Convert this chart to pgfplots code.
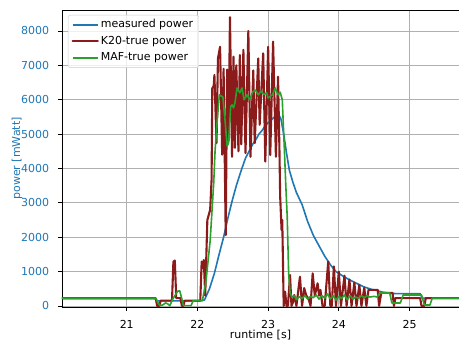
\documentclass[border=0pt]{standalone}
\usepackage{pgfplots}
\pgfplotsset{compat=1.18}
\usepackage{fontspec}
\setmainfont{DejaVu Sans}
\definecolor{mblue}{HTML}{1F77B4}
\definecolor{kdark}{HTML}{8B1A1A}
\definecolor{mgreen}{HTML}{2CA02C}
\definecolor{mgrid}{HTML}{B0B0B0}
\begin{document}
\fontsize{11}{13}\selectfont
\begin{tikzpicture}
\begin{axis}[
  scale only axis, width=397pt, height=297pt,
  at={(0,0)}, anchor=south west,
  xmin=20.084, xmax=25.70, ymin=-30, ymax=8610,
  axis x line*=box, axis y line*=left,
  axis line style={black, line width=0.9pt},
  xtick={21,22,23,24,25}, ytick={0,1000,...,8000},
  xtick pos=bottom, ytick pos=left,
  tick align=outside, major tick length=3.9pt,
  tick style={black, line width=0.9pt},
  grid=major, major grid style={mgrid, line width=0.9pt},
  /pgf/number format/assume math mode=true,
  /pgf/number format/1000 sep={},
  ticklabel style={font=\fontsize{11}{13}\selectfont},
  yticklabel style={mblue, inner sep=0pt, anchor=east, xshift=-8.7pt},
  xticklabel style={inner sep=0pt, anchor=north, yshift=-9pt},
  xlabel={runtime [s]}, ylabel={power [mWatt]},
  every axis x label/.style={at={(axis description cs:0.5,0)}, anchor=center, yshift=-28pt, font=\fontsize{11}{13}\selectfont},
  every axis y label/.style={at={(axis description cs:0,0.5)}, anchor=center, rotate=90, yshift=45pt, mblue, font=\fontsize{11}{13}\selectfont},
  legend cell align=left,
  legend style={at={(0,1)}, anchor=north west, xshift=6pt, yshift=-5pt,
    draw=black!20, fill=white, fill opacity=0.8, text opacity=1, rounded corners=2pt,
    inner xsep=3.5pt, inner ysep=1.5pt, row sep=0pt,
    font=\fontsize{11}{13}\selectfont,
    nodes={text height=8pt, text depth=2.5pt, inner ysep=3pt}},
  legend image code/.code={\draw[#1] (0pt,0pt) -- (25pt,0pt);},
]
% measured power
\addplot[draw=mblue, line width=1.6pt, line join=round] coordinates {
(20.08,224) (21.40,224) (21.43,150) (22.05,150) (22.10,175) (22.17,500) (22.24,950)
(22.30,1450) (22.37,2000) (22.43,2550) (22.49,3050) (22.55,3500) (22.62,3950)
(22.68,4300) (22.73,4500) (22.78,4700) (22.83,4850) (22.87,5000) (22.92,5120) (22.96,5250) (23.00,5330)
(23.05,5420) (23.10,5520) (23.14,5600) (23.18,5450) (23.22,5000) (23.26,4450) (23.30,3950) (23.35,3600)
(23.40,3300) (23.48,2950) (23.56,2450) (23.64,2050) (23.72,1750) (23.80,1450)
(23.88,1200) (23.96,1000) (24.05,880) (24.15,760) (24.25,660) (24.35,560)
(24.45,490) (24.55,440) (24.62,400) (24.70,380) (24.80,360) (25.00,360) (25.15,360)
(25.18,224) (25.70,224)
};
\addlegendentry{measured power}
% K20-true power
\addplot[draw=kdark, line width=2.1pt, line join=round, line cap=round] coordinates {
(20.08,224) (21.41,224) (21.43,0) (21.46,0) (21.48,155) (21.64,155) (21.66,1290)
(21.68,1320) (21.70,230) (21.76,230) (21.78,0) (21.80,0) (21.82,155) (22.04,155)
(22.06,1290) (22.08,1100) (22.09,1340) (22.11,300) (22.14,2500) (22.18,2800)
(22.20,3670) (22.21,6330) (22.23,6400) (22.24,6720) (22.27,4740) (22.29,7200) (22.32,7540)
(22.35,4400) (22.37,6900) (22.40,2060) (22.42,6880) (22.44,4800) (22.46,8400)
(22.49,4340) (22.51,7250) (22.53,4600) (22.55,7000) (22.58,4500) (22.60,7300)
(22.62,4700) (22.65,7450) (22.68,4450) (22.72,8000) (22.75,4340) (22.79,6850)
(22.81,4740) (22.86,7200) (22.88,5270) (22.93,7350) (22.96,4200) (23.00,7540)
(23.03,4390) (23.07,7690) (23.11,4340) (23.14,6670) (23.16,4540) (23.17,3200)
(23.19,2210) (23.20,2500) (23.22,0) (23.24,416) (23.26,0) (23.28,0) (23.31,900)
(23.33,0) (23.35,100) (23.37,320) (23.40,0) (23.45,850) (23.48,0) (23.51,520)
(23.54,300) (23.57,220) (23.60,0) (23.63,950) (23.66,300) (23.70,660) (23.72,300)
(23.74,465) (23.77,0) (23.80,0) (23.85,1290) (23.88,0) (23.90,0) (23.93,1150)
(23.96,0) (24.00,1000) (24.03,0) (24.08,880) (24.11,0) (24.15,770) (24.18,0)
(24.22,680) (24.25,0) (24.29,610) (24.32,0) (24.36,530) (24.39,0) (24.42,470)
(24.55,470) (24.57,0) (24.60,380) (24.76,380) (24.78,0) (24.80,230) (25.15,230)
(25.17,0) (25.21,0) (25.23,230) (25.70,230)
};
\addlegendentry{K20-true power}
% MAF-true power
\addplot[draw=mgreen, line width=1.6pt, line join=round] coordinates {
(20.08,224) (21.41,224) (21.44,100) (21.47,10) (21.51,30) (21.55,90) (21.58,60)
(21.61,10) (21.65,200) (21.68,300) (21.72,430) (21.75,440) (21.78,200) (21.80,10)
(21.91,10) (21.94,155) (22.07,155) (22.12,700) (22.18,1900) (22.23,3570)
(22.25,4540) (22.28,5400) (22.31,6140) (22.36,6080) (22.39,5410) (22.42,4650)
(22.44,4740) (22.47,5790) (22.49,5850) (22.51,5760) (22.53,5900) (22.56,6340)
(22.60,6200) (22.63,6340) (22.66,6000) (22.70,6140) (22.74,6000) (22.78,6220)
(22.82,6280) (22.86,6140) (22.90,6250) (22.94,6150) (22.98,6200) (23.00,6050)
(23.03,6100) (23.06,6140) (23.10,6340) (23.14,6140) (23.17,6220) (23.20,6000)
(23.23,4540) (23.25,3500) (23.27,2590) (23.29,960) (23.31,378) (23.34,250)
(23.37,300) (23.40,180) (23.44,270) (23.48,220) (23.52,300) (23.56,200)
(23.60,280) (23.64,240) (23.68,320) (23.72,200) (23.76,300) (23.80,230)
(23.84,350) (23.88,200) (23.92,300) (23.96,170) (24.00,280) (24.04,220)
(24.08,320) (24.12,180) (24.16,300) (24.20,200) (24.24,260) (24.28,220)
(24.32,300) (24.36,240) (24.40,300) (24.44,260) (24.50,280) (24.54,260)
(24.58,378) (24.72,378) (24.75,87) (24.87,87) (24.91,320) (25.17,320)
(25.21,29) (25.29,29) (25.32,224) (25.70,224)
};
\addlegendentry{MAF-true power}
\end{axis}
\pgfresetboundingbox
\path[use as bounding box] ([xshift=-62pt,yshift=-38pt]current axis.south west) rectangle ([yshift=10pt]current axis.north east);
\end{tikzpicture}
\end{document}
